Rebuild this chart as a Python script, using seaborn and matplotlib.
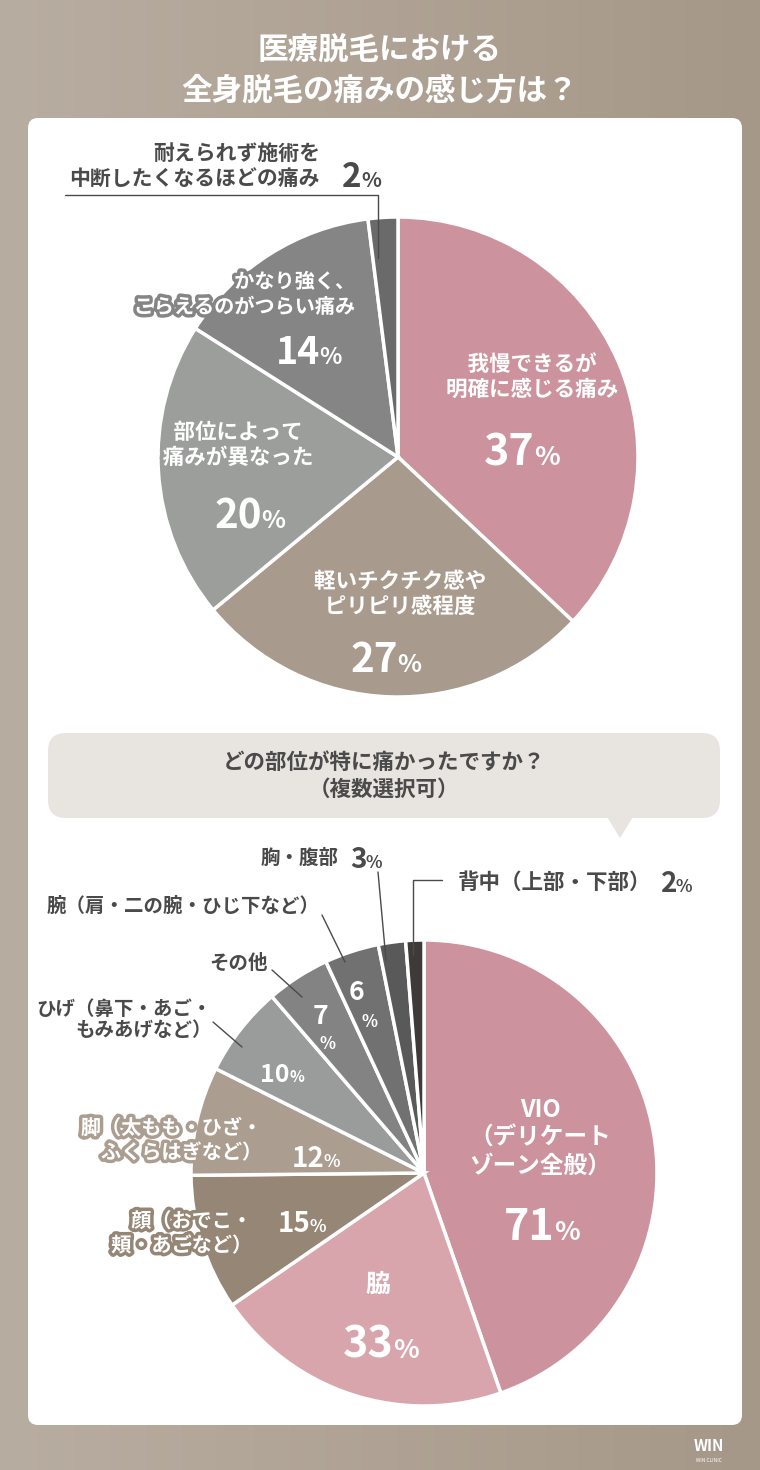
import numpy as np
import matplotlib
matplotlib.use("Agg")
import matplotlib.pyplot as plt
import matplotlib.patheffects as pe
from matplotlib.patches import FancyBboxPatch, Polygon
import seaborn as sns

sns.set_theme(style="white")
plt.rcParams["font.family"] = "Noto Sans CJK JP"

# --- data ---
title = "医療脱毛における\n全身脱毛の痛みの感じ方は？"
pain_labels = ["我慢できるが\n明確に感じる痛み", "軽いチクチク感や\nピリピリ感程度", "部位によって\n痛みが異なった",
               "かなり強く、\nこらえるのがつらい痛み", "耐えられず施術を\n中断したくなるほどの痛み"]
pain_values = [37, 27, 20, 14, 2]
pain_colors = ["#cc939e", "#a89a8c", "#9c9e9c", "#858585", "#6a6a6a"]

q2 = "どの部位が特に痛かったですか？\n（複数選択可）"
part_labels = ["VIO\n（デリケート\nゾーン全般）", "脇", "顔（おでこ・\n頬・あごなど）", "脚（太もも・ひざ・\nふくらはぎなど）",
               "ひげ（鼻下・あご・\nもみあげなど）", "その他", "腕（肩・二の腕・ひじ下など）", "胸・腹部", "背中（上部・下部）"]
part_values = [71, 33, 15, 12, 10, 7, 6, 3, 2]
part_colors = ["#cc939e", "#d9a5ad", "#968676", "#ab9e91", "#9a9c9b", "#838383", "#717171", "#595959", "#3e3a39"]

W, H = 760, 1470
fig = plt.figure(figsize=(W / 100, H / 100), dpi=100)
bg = fig.add_axes([0, 0, 1, 1])
grad = np.linspace(0, 1, 256)[None, :]
bg.imshow(grad, aspect="auto", extent=[0, W, 0, H],
          cmap=matplotlib.colors.LinearSegmentedColormap.from_list("g", ["#b8ada1", "#a69888"]))
bg.set_xlim(0, W); bg.set_ylim(0, H); bg.axis("off")

ax = fig.add_axes([0, 0, 1, 1], facecolor="none")
Y = lambda y: H - y
DARK = "#4a4a4a"
halo = lambda c: [pe.withStroke(linewidth=5, foreground=c)]

ax.add_patch(FancyBboxPatch((28, Y(1425)), 714, 1307, boxstyle="round,pad=0,rounding_size=10",
                            fc="white", ec="none"))
ax.text(380, Y(70), title, ha="center", va="center", color="white", fontsize=22,
        fontweight="bold", linespacing=1.35)

def pct(x, y, v, size, color, fx=None):
    ax.text(x, y, str(v), ha="right", va="baseline", fontsize=size, fontweight="bold", color=color,
            path_effects=fx)
    ax.text(x - 1, y, "%", ha="left", va="baseline", fontsize=size * 0.62, fontweight="bold", color=color,
            path_effects=fx)

# pie 1
ax.pie(pain_values, colors=pain_colors, startangle=90, counterclock=False, center=(398, Y(457)),
       radius=240, wedgeprops=dict(edgecolor="white", linewidth=2.5), frame=True)

# label x, y, align, pct x, pct y, pct size
pos1 = [(532, 377, "center", 535, 465, 31), (400, 594, "center", 398, 672, 29),
        (238, 445, "center", 262, 528, 29), (355, 294, "right", 320, 364, 27)]
for (lx, ly, ha, px, py, s), lab, v, c in zip(pos1, pain_labels, pain_values, pain_colors):
    ax.text(lx, Y(ly), lab, ha=ha, va="center", color="white", fontsize=15.5 if s > 27 else 14.5,
            fontweight="bold", linespacing=1.25, multialignment=ha, path_effects=halo(c))
    pct(px, Y(py), v, s, "white")
ax.text(320, Y(166), pain_labels[4], ha="right", va="center", color=DARK, fontsize=15,
        fontweight="bold", linespacing=1.2)
pct(362, Y(187), pain_values[4], 24, DARK)
ax.plot([65, 378, 378], [Y(195), Y(195), Y(258)], color=DARK, lw=1)

# speech bubble
ax.add_patch(FancyBboxPatch((48, Y(818)), 672, 85, boxstyle="round,pad=0,rounding_size=18",
                            fc="#e8e4df", ec="none"))
ax.add_patch(Polygon([(607, Y(817)), (633, Y(817)), (620, Y(838))], fc="#e8e4df", ec="none"))
ax.text(384, Y(776), q2, ha="center", va="center", color=DARK, fontsize=15.5,
        fontweight="bold", linespacing=1.3)

# pie 2
ax.pie(part_values, colors=part_colors, startangle=90, counterclock=False, center=(424, Y(1173)),
       radius=233, wedgeprops=dict(edgecolor="white", linewidth=2.5), frame=True)
ax.set_xlim(0, W); ax.set_ylim(0, H); ax.set_aspect("equal"); ax.axis("off")

ax.text(540, Y(1138), part_labels[0], ha="center", va="center", color="white", fontsize=17,
        fontweight="bold", linespacing=1.2)
pct(555, Y(1240), part_values[0], 31, "white")
ax.text(378, Y(1285), part_labels[1], ha="center", va="center", color="white", fontsize=18, fontweight="bold")
pct(394, Y(1358), part_values[1], 31, "white")
ax.text(252, Y(1233), part_labels[2], ha="right", va="center", color="white", fontsize=14.5,
        fontweight="bold", linespacing=1.2, path_effects=halo(part_colors[2]))
pct(310, Y(1232), part_values[2], 20, "white")
ax.text(262, Y(1140), part_labels[3], ha="right", va="center", color="white", fontsize=14.5,
        fontweight="bold", linespacing=1.2, path_effects=halo(part_colors[3]))
pct(324, Y(1167), part_values[3], 20, "white")
ax.text(212, Y(1020), part_labels[4], ha="right", va="center", color=DARK, fontsize=14,
        fontweight="bold", linespacing=1.2)
pct(290, Y(1082), part_values[4], 18, "white")
ax.plot([213, 242], [Y(1022), Y(1047)], color=DARK, lw=1)
ax.text(268, Y(963), part_labels[5], ha="right", va="center", color=DARK, fontsize=14, fontweight="bold")
ax.plot([272, 302], [Y(970), Y(997)], color=DARK, lw=1)
ax.text(320, Y(1016), str(part_values[5]), ha="center", va="center", color="white", fontsize=19, fontweight="bold")
ax.text(327, Y(1044), "%", ha="center", va="center", color="white", fontsize=12, fontweight="bold")
ax.text(320, Y(906), part_labels[6], ha="right", va="center", color=DARK, fontsize=14, fontweight="bold")
ax.plot([322, 345], [Y(915), Y(962)], color=DARK, lw=1)
ax.text(356, Y(992), str(part_values[6]), ha="center", va="center", color="white", fontsize=19, fontweight="bold")
ax.text(370, Y(1022), "%", ha="center", va="center", color="white", fontsize=12, fontweight="bold")
ax.text(339, Y(858), part_labels[7], ha="right", va="center", color=DARK, fontsize=14, fontweight="bold")
pct(367, Y(868), part_values[7], 20, DARK)
ax.plot([378, 386], [Y(872), Y(960)], color=DARK, lw=1)
ax.plot([413, 413, 442], [Y(955), Y(880), Y(880)], color=DARK, lw=1)
ax.text(458, Y(882), part_labels[8], ha="left", va="center", color=DARK, fontsize=15.5, fontweight="bold")
pct(677, Y(892), part_values[8], 20, DARK)

ax.text(709, Y(1446), "WIN", ha="center", va="center", color="white", fontsize=11, fontweight="bold")
ax.text(709, Y(1460), "WIN CLINIC", ha="center", va="center", color="white", fontsize=3.5)

fig.savefig("out.png", dpi=100)
